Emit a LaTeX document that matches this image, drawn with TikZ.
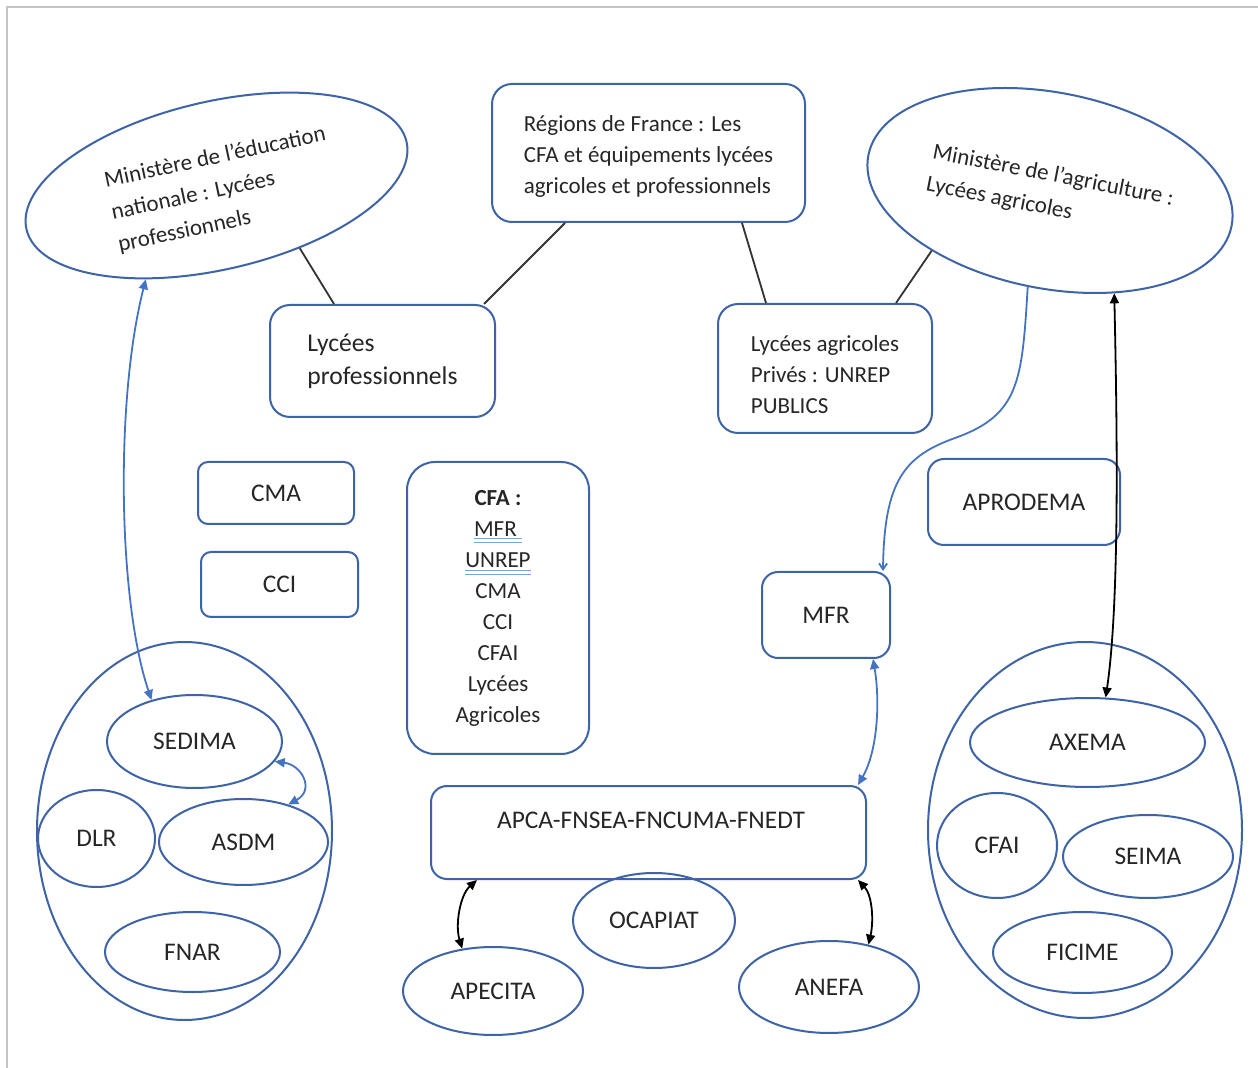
\documentclass[tikz,border=0pt]{standalone}
\usepackage{fontspec}
\setmainfont{Carlito}
\usetikzlibrary{shapes.geometric,arrows.meta}
\definecolor{shp}{HTML}{3E63A6}
\definecolor{arb}{HTML}{4472C4}
\definecolor{txt}{HTML}{262626}
\definecolor{lnk}{HTML}{333333}
\definecolor{frm}{HTML}{C4C4C4}
\definecolor{ulc}{HTML}{7FA0E0}
\newcommand\lblfont{\fontsize{12.7}{15.5}\selectfont}
\newcommand\smfont{\fontsize{11.5}{15.5}\selectfont}
\newcommand\minfont{\fontsize{11.5}{16.5}\selectfont}
\newcommand\dul[1]{{\color{ulc}\underline{\underline{\color{txt}#1}}}}
\begin{document}
\begin{tikzpicture}[x=0.5pt,y=-0.5pt,
  >={Triangle[length=5pt,width=4.5pt]},
  box/.style={draw=shp,line width=1pt,rounded corners=8pt,inner sep=0pt,text=txt,font=\lblfont},
  ell/.style={draw=shp,line width=1pt,ellipse,inner sep=0pt,text=txt,font=\lblfont},
  conn/.style={draw=lnk,line width=0.9pt},
  barr/.style={draw=arb,line width=0.9pt,<->},
  karr/.style={draw=black,line width=0.9pt,<->},
  sarr/.style={draw=arb,line width=0.9pt,-{Straight Barb[length=3pt,width=4pt]}},
  mtxt/.style={text=txt,font=\minfont,align=left,inner sep=0pt}]
\fill[white] (0,0) rectangle (1258,1068);
\useasboundingbox (0,0) rectangle (1258,1068);
\draw[frm,line width=1.2pt] (7,1068) -- (7,7) -- (1258,7);

% ministries
\node[ell,rotate=13,minimum width=195pt,minimum height=84pt] (minEdu) at (216.5,185.5) {};
\node[mtxt,rotate=12] (minEduT) at (222,190) {Ministère de l’éducation\\nationale : Lycées\\professionnels};
\node[ell,rotate=-11,minimum width=185pt,minimum height=98pt] (minAgr) at (1050,190.5) {};
\node[mtxt,rotate=-11] (minAgrT) at (1050,192) {Ministère de l’agriculture :\\Lycées agricoles};

% boxes
\node[box,rounded corners=10pt,minimum width=156.5pt,minimum height=69pt,font=\smfont,align=left,text height=42pt] (reg) at (648.5,153) {Régions de France : Les\\CFA et équipements lycées\\agricoles et professionnels};
\node[box,rounded corners=10pt,minimum width=112.5pt,minimum height=56pt,font=\fontsize{12.8}{16.5}\selectfont,align=left] (lpro) at (382.5,361) {Lycées\\professionnels};
\node[box,rounded corners=10pt,minimum width=107pt,minimum height=64.5pt,font=\smfont,align=left,text height=45pt] (lagr) at (825,368.5) {Lycées agricoles\\Privés : UNREP\\PUBLICS};
\node[box,rounded corners=5pt,minimum width=78pt,minimum height=31pt] (cma) at (276,493) {CMA};
\node[box,rounded corners=5pt,minimum width=78.5pt,minimum height=32.5pt] (cci) at (279.5,584.5) {CCI};
\node[box,rounded corners=14pt,minimum width=91pt,minimum height=146pt,font=\smfont,align=center] (cfa) at (498,608) {\textbf{CFA :}\\\dul{MFR\ }\\\dul{UNREP}\\CMA\\CCI\\CFAI\\Lycées\\Agricoles};
\node[box,minimum width=96pt,minimum height=43pt] (aprodema) at (1024,502) {APRODEMA};
\node[box,minimum width=64pt,minimum height=43pt] (mfr) at (826,615) {MFR};
\node[box,minimum width=217.5pt,minimum height=46.5pt] (apca) at (648.5,832.5) {};
\node[text=txt,font=\lblfont,inner sep=0pt] (apcaT) at (651,820) {APCA-FNSEA-FNCUMA-FNEDT};

% bottom ellipses
\node[ell,minimum width=81pt,minimum height=47.5pt] (ocapiat) at (654,920.5) {OCAPIAT};
\node[ell,minimum width=90pt,minimum height=44pt] (apecita) at (493,991) {APECITA};
\node[ell,minimum width=90pt,minimum height=46pt] (anefa) at (829,987) {ANEFA};

% left group
\node[ell,minimum width=147.5pt,minimum height=189pt] (lgrp) at (184.5,831) {};
\node[ell,minimum width=87.5pt,minimum height=46.5pt] (sedima) at (194.5,741.5) {SEDIMA};
\node[ell,minimum width=58.5pt,minimum height=48.5pt] (dlr) at (96.5,838.5) {DLR};
\node[ell,minimum width=84.5pt,minimum height=43pt] (asdm) at (243.5,842) {ASDM};
\node[ell,minimum width=87.5pt,minimum height=40pt] (fnar) at (192.5,952) {FNAR};

% right group
\node[ell,minimum width=157pt,minimum height=188pt] (rgrp) at (1085,830) {};
\node[ell,minimum width=117.5pt,minimum height=44.5pt] (axema) at (1087.5,742.5) {AXEMA};
\node[ell,minimum width=60pt,minimum height=52.5pt] (cfai) at (997,845.5) {CFAI};
\node[ell,minimum width=85pt,minimum height=41.5pt] (seima) at (1148,856.5) {SEIMA};
\node[ell,minimum width=89.5pt,minimum height=40.5pt] (ficime) at (1082.5,952.5) {FICIME};

% plain connectors
\draw[conn] (minEdu.-50) -- ([xshift=32.5pt]lpro.north west);
\draw[conn] ([xshift=37pt]reg.south west) -- ([xshift=-6pt]lpro.north east);
\draw[conn] ([xshift=-32pt]reg.south east) -- ([xshift=24.5pt]lagr.north west);
\draw[conn] (minAgr.218) -- ([xshift=-18.5pt]lagr.north east);

% arrows
\draw[barr] (minEdu.220) .. controls (115,400) and (118,600) .. (sedima.136);
\draw[barr] (sedima.-14) .. controls (302,765) and (315,790) .. (asdm.40);
\draw[barr] ([xshift=-9pt]mfr.south east) .. controls (880,700) and (878,750) .. ([xshift=-4.5pt]apca.north east);
\draw[sarr] (minAgr.268) .. controls (1022,380) and (1020,415) .. (955,438) .. controls (905,456) and (884,480) .. ([xshift=-4pt]mfr.north east);
\draw[karr] (minAgr.-47) .. controls (1117,420) and (1120,600) .. (axema.68);
\draw[karr] ([xshift=23.5pt]apca.south west) .. controls (460,895) and (455,925) .. (apecita.126);
\draw[karr] ([xshift=-4.5pt]apca.south east) .. controls (872,895) and (874,920) .. (anefa.47);
\end{tikzpicture}
\end{document}
